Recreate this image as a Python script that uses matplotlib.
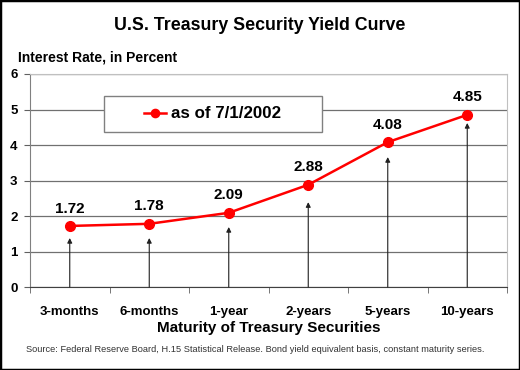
import numpy as np
import matplotlib.pyplot as plt
from matplotlib.patches import Rectangle

# Data
maturities = ['3-months', '6-months', '1-year', '2-years', '5-years', '10-years']
yields = [1.72, 1.78, 2.09, 2.88, 4.08, 4.85]
arrow_tips = [1.38, 1.38, 1.69, 2.39, 3.66, 4.62]
series_label = 'as of 7/1/2002'

plt.rcParams['font.family'] = ['Liberation Sans', 'DejaVu Sans']

fig = plt.figure(figsize=(5.2, 3.7), dpi=100)
ax = fig.add_axes([0.0577, 0.2243, 0.9173, 0.5757])

x = np.arange(len(maturities))

# grid and frame
ax.set_ylim(0, 6)
ax.set_xlim(-0.5, len(maturities) - 0.5)
ax.set_yticks(range(0, 7))
ax.yaxis.grid(True, color='#707070', linewidth=0.9)
ax.set_axisbelow(True)
for side in ['top', 'right']:
    ax.spines[side].set_color('#c0c0c0')
ax.spines['left'].set_color('#808080')
ax.spines['bottom'].set_color('#404040')

# arrows from the axis up to each point
for xi, tip in zip(x, arrow_tips):
    ax.annotate('', xy=(xi, tip), xytext=(xi, 0),
                arrowprops=dict(arrowstyle='-|>', color='#202020', lw=0.8,
                                mutation_scale=7, shrinkA=0, shrinkB=0))

line, = ax.plot(x, yields, color='#ff0000', linewidth=1.8, marker='o',
                markersize=7, label=series_label)

for xi, v in zip(x, yields):
    ax.annotate(f'{v:.2f}', xy=(xi, v), xytext=(0, 7.5), textcoords='offset points',
                ha='center', va='bottom', fontsize=11, fontweight='bold')

# x ticks between categories, labels at centres
ax.set_xticks(x)
ax.set_xticklabels(maturities, fontsize=9.5, fontweight='bold')
ax.set_xticks(np.arange(-0.5, len(maturities), 1), minor=True)
ax.tick_params(axis='x', which='major', length=0, pad=14)
ax.tick_params(axis='x', which='minor', length=4, color='#606060')
ax.tick_params(axis='y', length=4, color='#606060', labelsize=9.5, pad=5)
for lab in ax.get_yticklabels():
    lab.set_fontweight('bold')

ax.set_xlabel('Maturity of Treasury Securities', fontsize=11, fontweight='bold',
              labelpad=2)

# legend box drawn by hand so it can be wider than its content
box_x0, box_x1, box_y0, box_y1 = 0.155, 0.612, 0.728, 0.897
ax.add_patch(Rectangle((box_x0, box_y0), box_x1 - box_x0, box_y1 - box_y0,
                       transform=ax.transAxes, facecolor='white',
                       edgecolor='#808080', linewidth=1.0, zorder=4))
leg = ax.legend(loc='center', bbox_to_anchor=((box_x0 + box_x1) / 2, (box_y0 + box_y1) / 2),
                prop={'weight': 'bold', 'size': 12.2}, frameon=False,
                handlelength=1.3, handletextpad=0.3, borderaxespad=0, markerscale=0.85)
leg.set_zorder(5)

fig.text(0.5, 1 - 25 / 370, 'U.S. Treasury Security Yield Curve', ha='center',
         va='center', fontsize=12.8, fontweight='bold')
fig.text(18 / 520, 1 - 58 / 370, 'Interest Rate, in Percent', ha='left',
         va='center', fontsize=10, fontweight='bold')
fig.text(255 / 520, 1 - 349 / 370,
         'Source: Federal Reserve Board, H.15 Statistical Release. Bond yield equivalent basis, constant maturity series.',
         ha='center', va='center', fontsize=6.7, color='#333333')

# black border round the picture
fig.patches.append(Rectangle((0, 0), 1, 1, transform=fig.transFigure, fill=False,
                             edgecolor='black', linewidth=2.5))

fig.savefig('out.png', dpi=100)
